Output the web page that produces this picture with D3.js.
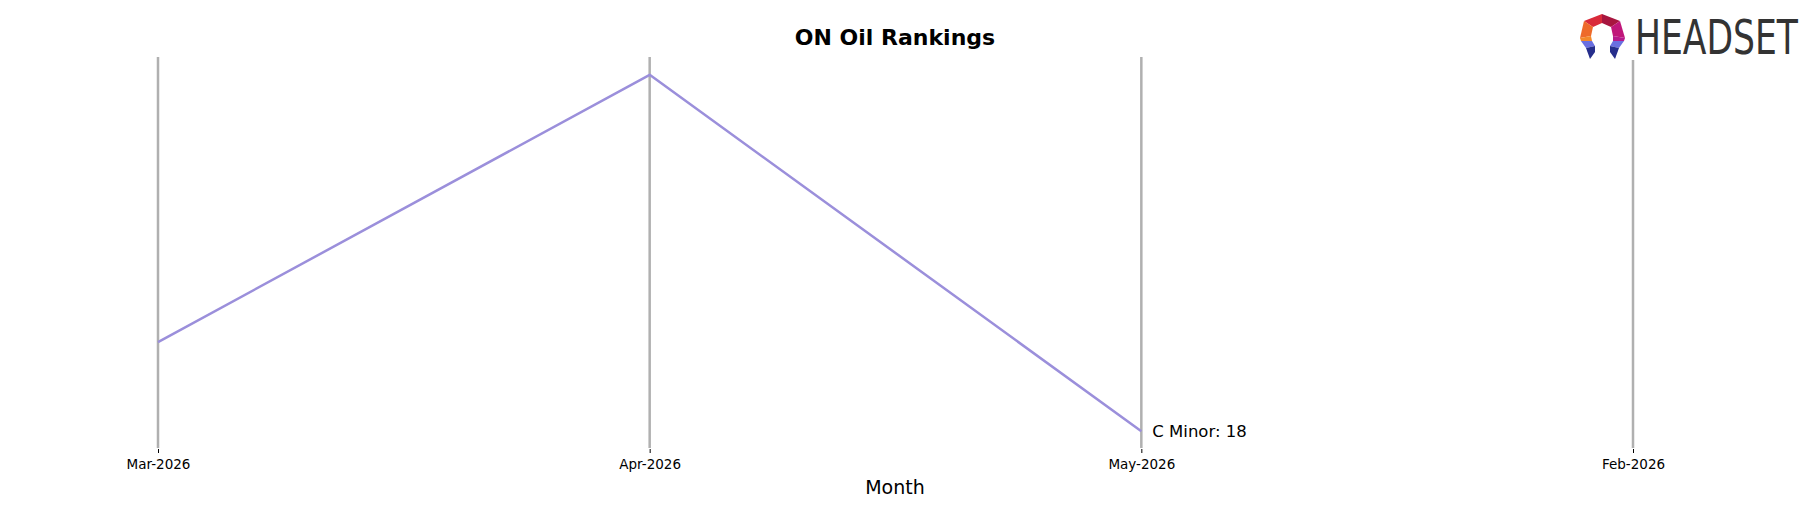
<!DOCTYPE html>
<html>
<head>
<meta charset="utf-8">
<script src="https://cdn.jsdelivr.net/npm/d3@7"></script>
<style>
  body { margin: 0; background: #fff; }
  svg { display: block; }
</style>
</head>
<body>
<div id="chart"></div>
<script>
'use strict';

// data
const months = ["Mar-2026", "Apr-2026", "May-2026", "Feb-2026"];
const brand = "C Minor";
const rankMonths = ["Mar-2026", "Apr-2026", "May-2026"];
const ranks = [14, 2, 18];

const width = 1818;
const height = 507;
const plotTop = 57;
const plotBottom = 449;

const svg = d3.select("#chart")
    .append("svg")
    .attr("width", width)
    .attr("height", height)
    .style("font-family", "'DejaVu Sans', sans-serif");

svg.append("rect")
    .attr("width", width)
    .attr("height", height)
    .attr("fill", "#fff");

const x = d3.scalePoint()
    .domain(months)
    .range([158, 1633]);

// ranks: smaller is better, so rank 1 at the top; 5% margin like matplotlib
const rMin = d3.min(ranks), rMax = d3.max(ranks);
const pad = (rMax - rMin) * 0.05;
const y = d3.scaleLinear()
    .domain([rMin - pad, rMax + pad])
    .range([plotTop, plotBottom]);

// vertical month guides
svg.append("g")
    .selectAll("line")
    .data(months)
    .enter()
    .append("line")
    .attr("x1", d => x(d))
    .attr("x2", d => x(d))
    .attr("y1", plotTop)
    .attr("y2", plotBottom - 1)
    .attr("stroke", "#b0b0b0")
    .attr("stroke-width", 2.5);

// x axis (ticks only)
const xAxis = svg.append("g")
    .attr("transform", `translate(0,${plotBottom})`)
    .call(d3.axisBottom(x).tickSize(4).tickPadding(6));
xAxis.select(".domain").remove();
xAxis.selectAll(".tick line").attr("stroke", "#000").attr("stroke-width", 1);
xAxis.selectAll(".tick text")
    .attr("fill", "#000")
    .style("font-size", "13.5px")
    .style("font-family", "'DejaVu Sans', sans-serif");

// rank line
const points = rankMonths.map((m, i) => ({ month: m, rank: ranks[i] }));
const line = d3.line()
    .x(d => x(d.month))
    .y(d => y(d.rank));

svg.append("path")
    .datum(points)
    .attr("d", line)
    .attr("fill", "none")
    .attr("stroke", "#9b8fdb")
    .attr("stroke-width", 2.5)
    .attr("stroke-linejoin", "round");

const last = points[points.length - 1];
svg.append("text")
    .attr("x", x(last.month) + 11)
    .attr("y", y(last.rank))
    .attr("dy", "0.35em")
    .style("font-size", "16.5px")
    .attr("fill", "#000")
    .text(`${brand}: ${last.rank}`);

// title and axis label
svg.append("text")
    .attr("x", 895)
    .attr("y", 45)
    .attr("text-anchor", "middle")
    .style("font-size", "22px")
    .style("font-weight", "bold")
    .text("ON Oil Rankings");

svg.append("text")
    .attr("x", 895)
    .attr("y", 494)
    .attr("text-anchor", "middle")
    .style("font-size", "19px")
    .text("Month");

// logo (white background hides the top of the last guide)
svg.append("rect")
    .attr("x", 1572).attr("y", 8).attr("width", 240).attr("height", 52)
    .attr("fill", "#fff");
const logo = svg.append("g").attr("transform", "translate(1580,14)");

const shapes = [
    { pts: [[4, 7], [22, 0], [22, 9], [13, 13]], fill: "#d92a3a" },
    { pts: [[22, 0], [40, 7], [31, 13], [22, 9]], fill: "#a8163f" },
    { pts: [[40, 7], [45, 24], [33, 22], [31, 13]], fill: "#c0177a" },
    { pts: [[4, 7], [13, 13], [11, 22], [0, 24]], fill: "#ee6a2a" },
    { pts: [[0, 24], [11, 22], [12, 27], [1, 27]], fill: "#f3892a" },
    { pts: [[45, 24], [44, 27], [33, 27], [33, 22]], fill: "#b61a8c" },
    { pts: [[1, 27], [12, 27], [15, 32], [6, 34]], fill: "#6a6fe0" },
    { pts: [[6, 34], [15, 32], [15, 38], [10, 45]], fill: "#262e8c" },
    { pts: [[44, 27], [33, 27], [30, 32], [39, 34]], fill: "#6a6fe0" },
    { pts: [[39, 34], [30, 32], [30, 38], [35, 45]], fill: "#262e8c" }
];
logo.selectAll("polygon")
    .data(shapes)
    .enter()
    .append("polygon")
    .attr("points", d => d.pts.map(p => p.join(",")).join(" "))
    .attr("fill", d => d.fill);

// condensed wordmark, squeezed horizontally to the reference width
logo.append("text")
    .attr("transform", "translate(55,40) scale(0.8,1)")
    .style("font-family", "'DejaVu Sans Condensed', 'DejaVu Sans', sans-serif")
    .style("font-size", "48px")
    .attr("fill", "#333")
    .text("HEADSET");
</script>
</body>
</html>
